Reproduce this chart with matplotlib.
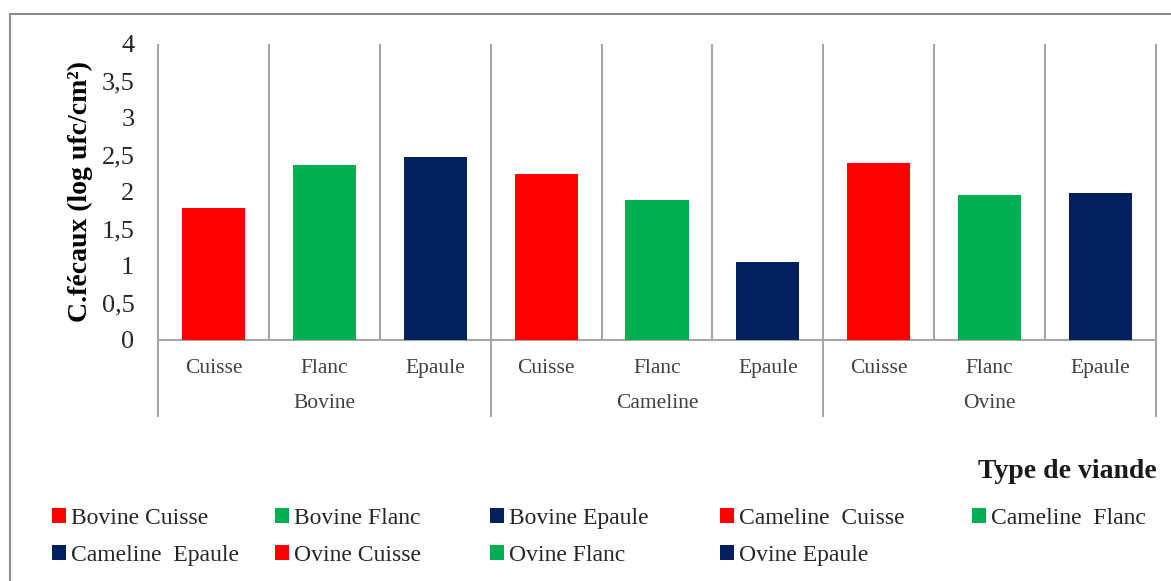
import matplotlib
matplotlib.use("Agg")
import matplotlib.pyplot as plt
from matplotlib.transforms import blended_transform_factory

# Data
groups = ["Bovine", "Cameline", "Ovine"]
cuts = ["Cuisse", "Flanc", "Epaule"]
bovine = [1.79, 2.37, 2.47]
cameline = [2.24, 1.89, 1.06]
ovine = [2.39, 1.96, 1.99]
series = [bovine, cameline, ovine]
legend_labels = [
    "Bovine Cuisse", "Bovine Flanc", "Bovine Epaule",
    "Cameline  Cuisse", "Cameline  Flanc", "Cameline  Epaule",
    "Ovine Cuisse", "Ovine Flanc", "Ovine Epaule",
]
yticks = [0, 0.5, 1, 1.5, 2, 2.5, 3, 3.5, 4]
ytick_labels = ["0", "0,5", "1", "1,5", "2", "2,5", "3", "3,5", "4"]

cut_colors = ["#FF0000", "#00B050", "#002060"]
grid_color = "#A6A6A6"
label_color = "#404040"

plt.rcParams["font.family"] = ["Liberation Serif", "DejaVu Serif"]

W, H = 1171, 581
fig = plt.figure(figsize=(W / 100, H / 100), dpi=100)


def fx(px):
    return px / W


def fy(py):
    return 1 - py / H


# Outer frame (left and top edges visible)
fig.add_artist(plt.Line2D([fx(10), fx(10)], [fy(14), 0], color="#8C8C8C", lw=1.5))
fig.add_artist(plt.Line2D([fx(10), 1], [fy(14), fy(14)], color="#8C8C8C", lw=1.5))

left, right, top, bottom = 158, 1156, 44, 340
ax = fig.add_axes([fx(left), fy(bottom), fx(right - left), fy(top) - fy(bottom)])
ax.set_xlim(0, 9)
ax.set_ylim(0, 4)
for s in ["top", "right", "left"]:
    ax.spines[s].set_visible(False)
ax.spines["bottom"].set_color(grid_color)
ax.spines["bottom"].set_linewidth(1.5)

# Bars
handles = []
for g, vals in enumerate(series):
    for c, v in enumerate(vals):
        pos = g * 3 + c + 0.5
        b = ax.bar(pos, v, width=0.57, color=cut_colors[c],
                   label=legend_labels[g * 3 + c], zorder=3)
        handles.append(b)

# Vertical separators between categories
trans = blended_transform_factory(ax.transData, ax.transAxes)
ext = -(417 - bottom) / (bottom - top)
for i in range(10):
    y0 = ext if i % 3 == 0 else 0
    ax.plot([i, i], [y0, 1], color=grid_color, lw=1.5, transform=trans,
            clip_on=False, zorder=1, solid_capstyle="butt")

# Category ticks
ax.set_xticks([i + 0.5 for i in range(9)])
ax.set_xticklabels(cuts * 3, fontsize=15.5, color=label_color)
ax.tick_params(axis="x", length=0, pad=14)
for g, name in enumerate(groups):
    ax.text(g * 3 + 1.5, -(404 - bottom) / (bottom - top), name,
            transform=trans, ha="center", va="center", fontsize=15.5,
            color=label_color)

ax.set_yticks(yticks)
ax.set_yticklabels(ytick_labels, fontsize=19, color="#262626")
ax.tick_params(axis="y", length=0, pad=17)

ax.set_ylabel("C.fécaux (log ufc/cm²)", fontsize=20, fontweight="bold")
ax.yaxis.set_label_coords(-(left - 93) / (right - left), 0.5)

fig.text(fx(1157), fy(471), "Type de viande", ha="right", va="center",
         fontsize=20, fontweight="bold", color="#1a1a1a")

# Legend: five columns, two rows
col_x = [52, 275, 490, 720, 972]
for col in range(5):
    idx = [col, col + 5] if col + 5 < 9 else [col]
    leg = fig.legend([handles[i] for i in idx], [legend_labels[i] for i in idx],
                     loc="upper left", bbox_to_anchor=(fx(col_x[col]), fy(508)),
                     frameon=False, fontsize=17, handlelength=0.6,
                     handleheight=0.6, handletextpad=0.2, labelspacing=0.68,
                     borderpad=0, borderaxespad=0)
    for t in leg.get_texts():
        t.set_color("#262626")

fig.savefig("out.png", dpi=100)
